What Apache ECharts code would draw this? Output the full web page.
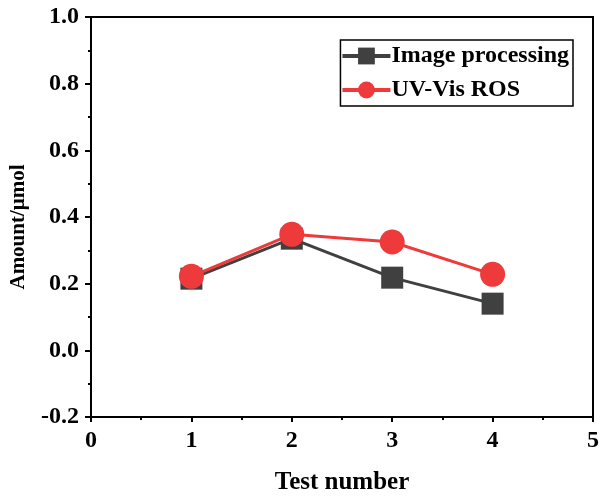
<!DOCTYPE html>
<html>
<head>
<meta charset="utf-8">
<script src="https://cdn.jsdelivr.net/npm/echarts@6/dist/echarts.min.js"></script>
<style>
  html, body { margin: 0; padding: 0; background: #fff; }
  #chart { width: 603px; height: 500px; }
</style>
</head>
<body>
<div id="chart"></div>
<script>
const testNumbers = [1, 2, 3, 4];
const imageProcessing = [0.215, 0.335, 0.218, 0.14];
const uvVisRos = [0.222, 0.348, 0.325, 0.228];
const seriesNames = ['Image processing', 'UV-Vis ROS'];

const font = '"Liberation Serif", "Times New Roman", serif';

const chart = echarts.init(document.getElementById('chart'));

const axisLabel = {
  fontFamily: font,
  fontWeight: 'bold',
  fontSize: 24,
  color: '#000',
};

chart.setOption({
  animation: false,
  color: ['#404040', '#ee3a3a'],
  grid: {
    left: 89,
    right: 10,
    top: 17,
    bottom: 78,
    show: true,
    borderColor: '#000',
    borderWidth: 2,
  },
  legend: {
    data: seriesNames,
    orient: 'vertical',
    right: 30,
    top: 40,
    itemWidth: 48,
    itemHeight: 21,
    itemGap: 10,
    padding: [4, 4, 4, 0],
    borderColor: '#000',
    borderWidth: 1.5,
    backgroundColor: '#fff',
    lineStyle: { width: 4 },
    textStyle: {
      fontFamily: font,
      fontWeight: 'bold',
      fontSize: 24,
      color: '#000',
      padding: [0, 0, 0, -4],
    },
  },
  xAxis: {
    type: 'value',
    min: 0,
    max: 5,
    interval: 1,
    name: 'Test number',
    nameLocation: 'middle',
    nameGap: 53,
    nameTextStyle: { ...axisLabel, fontSize: 25 },
    axisLine: { onZero: false, lineStyle: { color: '#000', width: 2 } },
    axisTick: { inside: false, length: 5, lineStyle: { color: '#000', width: 2 } },
    minorTick: { show: true, splitNumber: 2, length: 3, lineStyle: { color: '#000', width: 2 } },
    splitLine: { show: false },
    axisLabel: { ...axisLabel, margin: 12 },
  },
  yAxis: {
    type: 'value',
    min: -0.2,
    max: 1.0,
    interval: 0.2,
    name: 'Amount/μmol',
    nameLocation: 'middle',
    nameGap: 62,
    nameTextStyle: { ...axisLabel, fontSize: 21, padding: [0, 20, 0, 0] },
    axisLine: { show: true, onZero: false, lineStyle: { color: '#000', width: 2 } },
    axisTick: { show: true, inside: false, length: 6, lineStyle: { color: '#000', width: 2 } },
    minorTick: { show: true, splitNumber: 2, length: 3, lineStyle: { color: '#000', width: 2 } },
    splitLine: { show: false },
    axisLabel: {
      ...axisLabel,
      margin: 12,
      formatter: (v) => v.toFixed(1),
    },
  },
  series: [
    {
      name: seriesNames[0],
      type: 'line',
      data: testNumbers.map((x, i) => [x, imageProcessing[i]]),
      symbol: 'rect',
      symbolSize: 22,
      lineStyle: { width: 3 },
      itemStyle: { color: '#404040' },
    },
    {
      name: seriesNames[1],
      type: 'line',
      data: testNumbers.map((x, i) => [x, uvVisRos[i]]),
      symbol: 'circle',
      symbolSize: 25,
      lineStyle: { width: 3 },
      itemStyle: { color: '#ee3a3a' },
    },
  ],
});
</script>
</body>
</html>
